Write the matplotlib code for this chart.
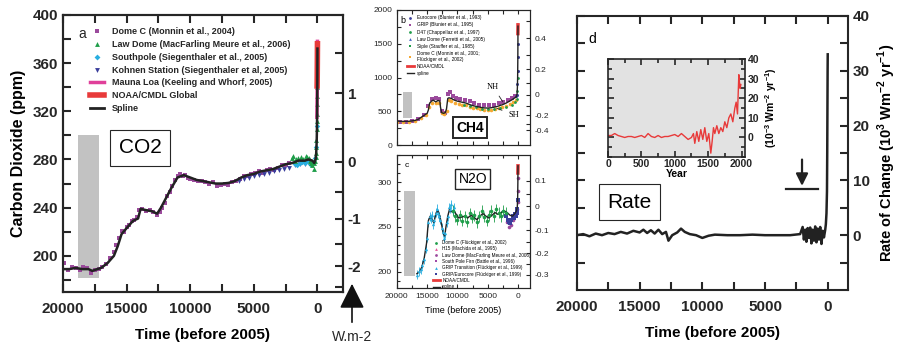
import numpy as np
import matplotlib.pyplot as plt
from matplotlib.ticker import MultipleLocator, FixedLocator
from matplotlib.lines import Line2D
from matplotlib.patches import FancyArrowPatch

plt.rcParams['font.family'] = ['Liberation Sans', 'DejaVu Sans']
plt.rcParams['mathtext.fontset'] = 'custom'
plt.rcParams['mathtext.rm'] = 'Liberation Sans'
plt.rcParams['mathtext.bf'] = 'Liberation Sans:bold'
plt.rcParams['xtick.direction'] = 'in'
plt.rcParams['ytick.direction'] = 'in'

# ---------------- datos CO2 (panel a) ----------------
co2_t = [20000, 19500, 19000, 18500, 18000, 17700, 17300, 17000, 16500, 16000, 15700, 15400,
         15000, 14500, 14100, 13900, 13500, 13000, 12600, 12300, 12000, 11500, 11000, 10500,
         10000, 9500, 9000, 8500, 8000, 7500, 7000, 6500, 6000, 5500, 5000, 4500, 4000, 3500,
         3000, 2500, 2000, 1500, 1000, 700, 400, 250, 150, 100, 60, 40, 20, 10, 0]
co2_s = [189, 189, 190, 189, 189, 187.5, 189, 190, 194, 200, 208, 218, 223, 229, 231, 239, 238,
         237, 235, 240, 246, 256, 265, 267, 265, 263, 262, 261, 260, 260, 260.5, 262, 265, 267,
         268, 270, 271, 272, 274, 276, 277, 279, 279, 280, 279, 277, 280, 285, 295, 305, 325,
         345, 372]
domec_t = [19900, 19600, 19300, 19000, 18700, 18400, 18100, 17800, 17500, 17200, 16900, 16600,
           16300, 16000, 15800, 15600, 15400, 15200, 15000, 14800, 14600, 14400, 14200, 14000,
           13800, 13500, 13200, 12900, 12600, 12400, 12200, 12000, 11800, 11600, 11400, 11200,
           11000, 10800, 10600, 10400, 10200, 10000, 9700, 9400, 9100, 8800, 8500, 8200, 7900,
           7600, 7300, 7000, 6700, 6400, 6100, 5800, 5500, 5200, 4900, 4600, 4300, 4000, 3700,
           3400, 3100, 2800, 2500, 2200]
domec_v = [194, 188, 191, 190, 188, 191, 190, 186, 188, 189, 191, 193, 198, 203, 209, 215, 221,
           220, 224, 226, 229, 230, 232, 238, 239, 237, 238, 236, 234, 236, 240, 244, 250, 253,
           258, 263, 266, 268, 266, 267, 265, 264, 263, 262, 262, 261, 260, 261, 258, 259, 260,
           259, 261, 262, 264, 266, 266, 268, 269, 270, 269, 271, 272, 271, 273, 275, 275, 277]
lawdome_t = [2000, 1900, 1800, 1700, 1500, 1300, 1100, 900, 800, 700, 600, 500, 400, 300, 250,
             200, 150, 120, 100, 80, 60, 50, 40, 30, 25, 20, 15, 10]
lawdome_v = [281, 283, 279, 280, 281, 282, 280, 283, 282, 281, 279, 277, 275, 272, 277, 279, 282,
             285, 290, 296, 305, 312, 318, 326, 333, 340, 350, 360]
southpole_t = [1800, 1600, 1400, 1200, 1000, 800, 600, 400, 200, 100, 50]
southpole_v = [276, 275, 277, 278, 277, 279, 276, 278, 281, 290, 308]
kohnen_t = [6200, 5800, 5400, 5000, 4600, 4200, 3800, 3400, 3000, 2600, 2200, 1800, 1400, 1000, 600]
kohnen_v = [262, 264, 265, 266, 267, 268, 269, 270, 271, 272, 273, 275, 276, 276, 277]
maunaloa_t = [47, 40, 30, 20, 10, 0]
maunaloa_v = [315, 320, 328, 339, 354, 378]
noaa_co2_t = [26, 20, 10, 0]
noaa_co2_v = [341, 346, 360, 376]
co2_bar = [18800, 17200, 182, 300]

# ---------------- datos CH4 (panel b) ----------------
ch4_t = [20000, 19000, 18000, 17500, 17000, 16500, 16000, 15500, 15000, 14800, 14600, 14300,
         14000, 13600, 13200, 12900, 12800, 12600, 12300, 12000, 11800, 11600, 11400, 11000,
         10500, 10000, 9500, 9000, 8500, 8000, 7500, 7000, 6500, 6000, 5500, 5000, 4500, 4000,
         3500, 3000, 2500, 2000, 1500, 1000, 700, 400, 250, 150, 100, 60, 30, 10, 0]
ch4_s = [355, 350, 352, 358, 365, 380, 410, 440, 470, 520, 620, 650, 665, 640, 660, 650, 560,
         480, 470, 480, 540, 690, 700, 690, 665, 650, 640, 630, 620, 600, 585, 575, 565, 555,
         550, 548, 552, 560, 570, 585, 600, 620, 645, 670, 690, 705, 720, 760, 850, 1000, 1250,
         1550, 1760]
grip_t = [19500, 18500, 17500, 16500, 15500, 14800, 14200, 13500, 13000, 12500, 12000, 11500,
          11200, 10800, 10200, 9500, 8800, 8000, 7200, 6400, 5600, 4800, 4000, 3200, 2400, 1600,
          1000, 500]
grip_v = [340, 345, 350, 380, 450, 580, 680, 690, 680, 500, 480, 760, 790, 730, 700, 680, 670,
          650, 620, 600, 590, 590, 600, 620, 640, 670, 700, 720]
domec_ch4_t = [20000, 19000, 18000, 17000, 16000, 15200, 14700, 14200, 13600, 13000, 12600, 12200,
               11800, 11400, 11000, 10400, 9800, 9200, 8600, 8000, 7400, 6800, 6200, 5600, 5000,
               4400, 3800, 3200, 2600, 2000, 1400, 800, 400]
domec_ch4_v = [340, 335, 340, 355, 395, 450, 560, 620, 620, 630, 470, 455, 500, 660, 650, 625,
               610, 600, 590, 570, 555, 545, 535, 525, 520, 525, 535, 545, 560, 585, 610, 640, 665]
siple_t = [9000, 8000, 7000, 6000, 5000, 4000, 3000, 2000, 1000, 500, 200, 100, 50]
siple_v = [600, 575, 560, 540, 530, 535, 545, 560, 600, 640, 680, 800, 1000]
eurocore_t = [300, 200, 100, 60, 40, 20]
eurocore_v = [720, 740, 900, 1100, 1300, 1500]
noaa_ch4_t = [20, 10, 0]
noaa_ch4_v = [1650, 1720, 1780]
ch4_bar = [19000, 17500, 400, 790]

# ---------------- datos N2O (panel c) ----------------
n2o_t = [16700, 16300, 15900, 15500, 15100, 14800, 14500, 14200, 13900, 13500, 13200, 12900,
         12600, 12300, 12100, 11900, 11600, 11300, 11000, 10600, 10200, 9800, 9300, 8800, 8300,
         7800, 7300, 6800, 6300, 5800, 5300, 4800, 4300, 3800, 3300, 2800, 2300, 1800, 1300, 900,
         500, 250, 120, 60, 20, 0]
n2o_s = [198, 200, 205, 215, 232, 257, 262, 258, 255, 266, 268, 262, 252, 242, 240, 250, 262,
         270, 267, 268, 264, 260, 261, 262, 260, 263, 261, 258, 262, 265, 262, 260, 263, 266,
         264, 266, 268, 266, 263, 262, 265, 268, 272, 280, 300, 318]
griptr_t = [16700, 16400, 16100, 15800, 15500, 15200, 15000, 14800, 14600, 14400, 14200, 14000,
            13800, 13600, 13400, 13200, 13000, 12800, 12600, 12400, 12200, 12000, 11800, 11600,
            11400, 11200, 11000, 10800, 10600]
griptr_v = [197, 201, 203, 208, 214, 226, 238, 255, 262, 259, 263, 253, 258, 266, 270, 265, 262,
            258, 249, 244, 238, 243, 255, 262, 272, 270, 275, 268, 272]
domec_n2o_t = [10800, 10400, 10000, 9600, 9200, 8800, 8400, 8000, 7600, 7200, 6800, 6400, 6000,
               5600, 5200, 4800, 4400, 4000, 3600, 3200, 2800, 2400, 2000]
domec_n2o_v = [268, 262, 258, 263, 257, 262, 256, 265, 260, 263, 255, 262, 268, 261, 257, 263,
               268, 262, 270, 266, 262, 268, 266]
gripeu_t = [1900, 1700, 1500, 1300, 1100, 900, 700, 500, 300, 200, 100, 50]
gripeu_v = [262, 258, 256, 254, 258, 262, 260, 264, 262, 266, 270, 280]
lawn2o_t = [1800, 1500, 1200, 900, 600, 300, 150, 80, 40, 20]
lawn2o_v = [256, 250, 252, 258, 262, 265, 270, 278, 290, 305]
noaa_n2o_t = [20, 10, 0]
noaa_n2o_v = [310, 314, 318]
n2o_bar = [18850, 17000, 196, 290]

# ---------------- datos tasa (panel d) ----------------
rate_t = [20000, 19500, 19000, 18500, 18000, 17500, 17000, 16500, 16000, 15500, 15000, 14700,
          14400, 14100, 13800, 13500, 13200, 12900, 12700, 12400, 12000, 11700, 11400, 11000,
          10500, 10000, 9500, 9000, 8000, 7000, 6000, 5000, 4000, 3000, 2200, 2000, 1900, 1800,
          1700, 1600, 1500, 1400, 1300, 1200, 1100, 1000, 900, 800, 700, 600, 500, 400, 300, 200,
          150, 100, 60, 40, 20, 10, 0]
rate_v = [0, 0.2, -0.2, 0.3, 0, 0.4, 0.2, 0.6, 0.3, 0.8, 0.5, 1.0, 0.4, 0.9, 0.3, 1.0, 0.2, 0.6,
          -1.0, 0, 0.5, 1.2, 0.6, 0.2, 0, -0.5, -0.1, 0.1, 0, 0, 0.1, 0, 0, 0, 0.2, 1.5, -0.8,
          1.0, -1.2, 1.3, -0.5, 1.4, -1.5, 1.0, -1.0, 1.6, -1.3, 1.2, -0.8, 1.5, -1.6, 0.8, -0.4,
          1.0, 2, 4, 8, 15, 25, 30, 33]
inset_year = [0, 50, 100, 150, 200, 250, 300, 350, 400, 450, 500, 550, 600, 650, 700, 750, 800,
              850, 900, 950, 1000, 1050, 1100, 1150, 1200, 1250, 1280, 1300, 1330, 1360, 1390,
              1420, 1450, 1480, 1510, 1540, 1560, 1580, 1600, 1630, 1660, 1690, 1720, 1750, 1780,
              1810, 1840, 1870, 1900, 1920, 1940, 1950, 1960, 1970, 1980, 1990]
inset_rate = [1, 1, 2, 1, 0.5, 0, 0.5, 0.5, 0, 0.5, 1, 0, 2, 0.5, 0, 1, 0, 0.5, 0.5, 1, 1.5, 0.5,
              2, 0.5, -1, 0, 2, -3, 3, -2, 4, -1, 5, -2, 2, -8, -2, 5, 2, 6, 2, 5, 3, 8, 5, 10,
              12, 8, 15, 18, 12, 22, 32, 28, 25, 27]

INK = '#262626'
PURPLE = '#9b4a9c'
GREEN = '#1f9e4a'
CYAN = '#29aee0'
BLUE = '#3b3f9c'
MAGENTA = '#e0409a'
RED = '#e83a3a'
ORANGE = '#f5a832'
GRAY = '#c2c2c2'


def co2_inv(f):
    return 278.0 * np.exp(np.asarray(f) / 5.35)


def ch4_inv(f):
    return (np.asarray(f) / 0.032 + np.sqrt(742.0)) ** 2


def n2o_inv(f):
    return (np.asarray(f) / 0.12 + np.sqrt(273.0)) ** 2


def estilo(ax, lw, big, small, fs):
    for s in ax.spines.values():
        s.set_linewidth(lw)
        s.set_color(INK)
    ax.tick_params(which='major', length=big, width=lw, colors=INK, labelsize=fs,
                   top=True, bottom=True)
    ax.tick_params(which='minor', length=small, width=lw, colors=INK, top=True, bottom=True)


fig = plt.figure(figsize=(9, 3.43), dpi=100)

# ================= panel a =================
ax_a = fig.add_axes([0.070, 0.1487, 0.311, 0.808])
ax_a.fill_between(co2_bar[:2], co2_bar[2], co2_bar[3], color=GRAY, lw=0)
ax_a.plot(domec_t, domec_v, ls='none', marker='s', ms=3.4, color=PURPLE, mew=0)
ax_a.plot(kohnen_t, kohnen_v, ls='none', marker='v', ms=3.5, color=BLUE, mew=0)
ax_a.plot(southpole_t, southpole_v, ls='none', marker='D', ms=2.8, color=CYAN, mew=0)
ax_a.plot(lawdome_t, lawdome_v, ls='none', marker='^', ms=3.5, color=GREEN, mew=0)
ax_a.plot(maunaloa_t, maunaloa_v, color=MAGENTA, lw=2.5)
ax_a.plot(noaa_co2_t, noaa_co2_v, color=RED, lw=4)
ax_a.plot(co2_t, co2_s, color='#222222', lw=1.8)
ax_a.set_xlim(20000, -2000)
ax_a.set_ylim(170, 400)
ax_a.xaxis.set_major_locator(MultipleLocator(5000))
ax_a.xaxis.set_minor_locator(MultipleLocator(2500))
ax_a.yaxis.set_major_locator(MultipleLocator(40))
ax_a.yaxis.set_minor_locator(MultipleLocator(20))
estilo(ax_a, 1.5, 6, 6, 11)
ax_a.tick_params(axis='x', pad=7)
ax_a.tick_params(axis='y', right=False)
ax_a.set_ylabel('Carbon Dioxide (ppm)', fontsize=11.5, fontweight='bold', labelpad=5)
ax_a.set_xlabel('Time (before 2005)', fontsize=11, fontweight='bold', labelpad=9)

tw_a = ax_a.twinx()
tw_a.set_ylim(170, 400)
tw_a.yaxis.set_major_locator(FixedLocator(co2_inv([-2, -1, 0, 1])))
tw_a.set_yticklabels(['-2', '-1', '0', '1'])
tw_a.yaxis.set_minor_locator(FixedLocator(co2_inv([-2.5, -1.5, -0.5, 0.5, 1.5])))
estilo(tw_a, 1.5, 6, 6, 11)
tw_a.tick_params(axis='x', top=False, bottom=False)

ax_a.text(0.068, 0.93, 'a', transform=ax_a.transAxes, fontsize=10, ha='center', va='center',
          color=INK)
hand_a = [Line2D([], [], ls='none', marker='s', ms=3, color=PURPLE, mew=0),
          Line2D([], [], ls='none', marker='^', ms=3.5, color=GREEN, mew=0),
          Line2D([], [], ls='none', marker='D', ms=3, color=CYAN, mew=0),
          Line2D([], [], ls='none', marker='v', ms=3.5, color=BLUE, mew=0),
          Line2D([], [], color=MAGENTA, lw=2.5),
          Line2D([], [], color=RED, lw=4),
          Line2D([], [], color='#222222', lw=2)]
lab_a = ['Dome C (Monnin et al., 2004)', 'Law Dome (MacFarling Meure et al., 2006)',
         'Southpole (Siegenthaler et al., 2005)', 'Kohnen Station (Siegenthaler et al, 2005)',
         'Mauna Loa (Keeling and Whorf, 2005)', 'NOAA/CMDL Global', 'Spline']
leg = ax_a.legend(hand_a, lab_a, loc='upper left', bbox_to_anchor=(0.096, 0.955), frameon=False,
                  prop={'size': 6.5, 'weight': 'bold'}, handlelength=1.6, handletextpad=0.8,
                  labelspacing=0.42, borderaxespad=0, borderpad=0)
for t in leg.get_texts():
    t.set_color(INK)
ax_a.text(0.275, 0.52, 'CO2', transform=ax_a.transAxes, fontsize=15, ha='center', va='center',
          bbox=dict(boxstyle='square,pad=0.4', fc='white', ec=INK, lw=0.8))

# ================= panel b =================
ax_b = fig.add_axes([0.441, 0.577, 0.148, 0.394])
ax_b.fill_between(ch4_bar[:2], ch4_bar[2], ch4_bar[3], color=GRAY, lw=0)
ax_b.plot(grip_t, grip_v, ls='none', marker='s', ms=2.4, color=PURPLE, mew=0)
ax_b.plot(domec_ch4_t, domec_ch4_v, ls='none', marker='o', ms=2.6, color=ORANGE, mew=0)
ax_b.plot(siple_t, siple_v, ls='none', marker='o', ms=2, color=GREEN, mew=0)
ax_b.plot(eurocore_t, eurocore_v, ls='none', marker='o', ms=2.2, color=BLUE, mew=0)
ax_b.plot(noaa_ch4_t, noaa_ch4_v, color=RED, lw=2.5)
ax_b.plot(ch4_t, ch4_s, color='#222222', lw=1.0)
ax_b.set_xlim(20000, -2000)
ax_b.set_ylim(0, 2000)
ax_b.xaxis.set_major_locator(MultipleLocator(5000))
ax_b.xaxis.set_minor_locator(MultipleLocator(2500))
ax_b.yaxis.set_major_locator(MultipleLocator(500))
ax_b.yaxis.set_minor_locator(MultipleLocator(250))
estilo(ax_b, 0.8, 3, 3, 6)
ax_b.tick_params(axis='x', labelbottom=False)
ax_b.tick_params(axis='y', right=False)
tw_b = ax_b.twinx()
tw_b.set_ylim(0, 2000)
tw_b.yaxis.set_major_locator(FixedLocator(ch4_inv([-0.4, -0.2, 0, 0.2, 0.4])))
tw_b.set_yticklabels(['-0.4', '-0.2', '0', '0.2', '0.4'])
tw_b.yaxis.set_minor_locator(FixedLocator(ch4_inv([-0.3, -0.1, 0.1, 0.3, 0.5])))
estilo(tw_b, 0.8, 3, 3, 6)
tw_b.tick_params(axis='x', top=False, bottom=False)
ax_b.text(0.045, 0.925, 'b', transform=ax_b.transAxes, fontsize=6.5, ha='center', va='center')
hand_b = [Line2D([], [], ls='none', marker='o', ms=2, color=BLUE, mew=0),
          Line2D([], [], ls='none', marker='s', ms=2, color=PURPLE, mew=0),
          Line2D([], [], ls='none', marker='o', ms=2, color=GREEN, mew=0),
          Line2D([], [], ls='none', marker='^', ms=2, color='#4060c0', mew=0),
          Line2D([], [], ls='none', marker='s', ms=2, color=GREEN, mew=0),
          Line2D([], [], ls='none', marker='s', ms=2, color=ORANGE, mew=0),
          Line2D([], [], color=RED, lw=2),
          Line2D([], [], color='#222222', lw=1)]
lab_b = ['Eurocore (Blunier et al., 1993)', 'GRIP (Blunier et al., 1995)',
         'D47 (Chappellaz et al., 1997)', 'Law Dome (Ferretti et al., 2005)',
         'Siple (Stauffer et al., 1985)', 'Dome C (Monnin et al., 2001;\nFlückiger et al., 2002)',
         'NOAA/CMDL', 'spline']
ax_b.legend(hand_b, lab_b, loc='upper left', bbox_to_anchor=(0.075, 0.96), frameon=False,
            prop={'size': 3.4}, handlelength=1.5, handletextpad=0.6, labelspacing=0.45,
            borderaxespad=0, borderpad=0)
ax_b.annotate('NH', xy=(2500, 640), xytext=(4100, 860), fontsize=6, family='Liberation Serif',
              ha='center', va='center', arrowprops=dict(arrowstyle='-', color=INK, lw=0.6,
                                                        shrinkA=2, shrinkB=0))
ax_b.annotate('SH', xy=(3500, 545), xytext=(650, 445), fontsize=6, family='Liberation Serif',
              ha='center', va='center', arrowprops=dict(arrowstyle='-', color=INK, lw=0.6,
                                                        shrinkA=3, shrinkB=0))
ax_b.text(0.55, 0.13, 'CH4', transform=ax_b.transAxes, fontsize=10, fontweight='bold',
          ha='center', va='center',
          bbox=dict(boxstyle='square,pad=0.22', fc='white', ec=INK, lw=1.4))

# ================= panel c =================
ax_c = fig.add_axes([0.441, 0.160, 0.148, 0.388])
ax_c.fill_between(n2o_bar[:2], n2o_bar[2], n2o_bar[3], color=GRAY, lw=0)
ax_c.errorbar(griptr_t, griptr_v, yerr=5, ls='none', marker='^', ms=2.4, color=CYAN, mew=0,
              elinewidth=0.6, capsize=1.2)
ax_c.errorbar(domec_n2o_t, domec_n2o_v, yerr=6, ls='none', marker='o', ms=2.6, color=GREEN,
              mew=0, elinewidth=0.6, capsize=1.2)
ax_c.plot(lawn2o_t, lawn2o_v, ls='none', marker='o', ms=2.6, color=PURPLE, mew=0)
ax_c.plot(gripeu_t, gripeu_v, ls='none', marker='s', ms=2.6, color=BLUE, mew=0)
ax_c.plot(noaa_n2o_t, noaa_n2o_v, color=RED, lw=2.5)
ax_c.plot(n2o_t, n2o_s, color='#222222', lw=1.0)
ax_c.set_xlim(20000, -2000)
ax_c.set_ylim(182, 330)
ax_c.xaxis.set_major_locator(MultipleLocator(5000))
ax_c.xaxis.set_minor_locator(MultipleLocator(2500))
ax_c.yaxis.set_major_locator(MultipleLocator(50))
ax_c.yaxis.set_minor_locator(MultipleLocator(10))
estilo(ax_c, 0.8, 3, 2, 6)
ax_c.tick_params(axis='y', right=False)
ax_c.set_xlabel('Time (before 2005)', fontsize=6.5, labelpad=4)
tw_c = ax_c.twinx()
tw_c.set_ylim(182, 330)
tw_c.yaxis.set_major_locator(FixedLocator(n2o_inv([-0.3, -0.2, -0.1, 0, 0.1])))
tw_c.set_yticklabels(['-0.3', '-0.2', '-0.1', '0', '0.1'])
tw_c.yaxis.set_minor_locator(FixedLocator(n2o_inv([-0.25, -0.15, -0.05, 0.05])))
estilo(tw_c, 0.8, 3, 3, 6)
tw_c.tick_params(axis='x', top=False, bottom=False)
ax_c.text(0.075, 0.92, 'c', transform=ax_c.transAxes, fontsize=6, ha='center', va='center')
hand_c = [Line2D([], [], ls='none', marker='o', ms=2, color=GREEN, mew=0),
          Line2D([], [], ls='none', marker='^', ms=2, color='#e8509a', mew=0),
          Line2D([], [], ls='none', marker='o', ms=2, color=PURPLE, mew=0),
          Line2D([], [], ls='none', marker='s', ms=2, color='#a04aa8', mew=0),
          Line2D([], [], ls='none', marker='^', ms=2, color=CYAN, mew=0),
          Line2D([], [], ls='none', marker='s', ms=2, color=BLUE, mew=0),
          Line2D([], [], color=RED, lw=2),
          Line2D([], [], color='#222222', lw=1)]
lab_c = ['Dome C (Flückiger et al., 2002)', 'H15 (Machida et al., 1995)',
         'Law Dome (MacFarling Meure et al., 2006)', 'South Pole Firn (Battle et al., 1996)',
         'GRIP Transition (Flückiger et al., 1999)', 'GRIP/Eurocore (Flückiger et al., 1999)',
         'NOAA/CMDL', 'spline']
ax_c.legend(hand_c, lab_c, loc='upper left', bbox_to_anchor=(0.27, 0.36), frameon=False,
            prop={'size': 3.3}, handlelength=1.5, handletextpad=0.6, labelspacing=0.28,
            borderaxespad=0, borderpad=0)
ax_c.text(0.57, 0.82, 'N2O', transform=ax_c.transAxes, fontsize=10, ha='center', va='center',
          bbox=dict(boxstyle='square,pad=0.22', fc='white', ec=INK, lw=1.0))

# flecha W.m-2
fig.text(352 / 900, 2 / 343, 'W.m-2', fontsize=10, ha='center', va='baseline', color=INK)
fig.add_artist(FancyArrowPatch(
    (352 / 900, 18 / 343), (352 / 900, 62 / 343), transform=fig.transFigure,
    arrowstyle='-|>,head_length=0.9,head_width=0.45', mutation_scale=17, color='#111111',
    lw=1.2))

# ================= panel d =================
ax_d = fig.add_axes([0.641, 0.1545, 0.301, 0.799])
ax_d.plot(rate_t, rate_v, color='#222222', lw=1.8)
ax_d.set_xlim(20000, -1600)
ax_d.set_ylim(-10, 40)
ax_d.xaxis.set_major_locator(MultipleLocator(5000))
ax_d.xaxis.set_minor_locator(MultipleLocator(2500))
ax_d.yaxis.set_major_locator(FixedLocator([0, 10, 20, 30, 40]))
ax_d.yaxis.set_minor_locator(FixedLocator([-5, 5, 15, 25, 35]))
estilo(ax_d, 1.5, 6, 6, 11)
ax_d.tick_params(axis='y', which='both', left=True, right=True, labelleft=False,
                 labelright=True)
ax_d.tick_params(axis='x', pad=7)
ax_d.yaxis.set_label_position('right')
ax_d.set_ylabel(r'Rate of Change (10$^{\mathbf{3}}$ Wm$^{\mathbf{-2}}$ yr$^{\mathbf{-1}}$)',
                fontsize=10.5, fontweight='bold', rotation=90, labelpad=4)
ax_d.set_xlabel('Time (before 2005)', fontsize=11, fontweight='bold', labelpad=9)
ax_d.text(0.058, 0.916, 'd', transform=ax_d.transAxes, fontsize=10, ha='center', va='center')
ax_d.annotate('', xy=(2050, 9.0), xytext=(2050, 13.8),
              arrowprops=dict(arrowstyle='-|>,head_length=0.6,head_width=0.3', color='#222222',
                              lw=1.6, mutation_scale=12, shrinkA=0, shrinkB=0))
ax_d.plot([3300, 800], [8.5, 8.5], color='#222222', lw=1.6)
ax_d.text(0.195, 0.32, 'Rate', transform=ax_d.transAxes, fontsize=15, ha='center', va='center',
          bbox=dict(boxstyle='square,pad=0.4', fc='white', ec=INK, lw=0.8))

ax_in = fig.add_axes([0.6756, 0.542, 0.152, 0.286])
ax_in.set_facecolor('#e2e2e2')
ax_in.plot(inset_year, inset_rate, color=RED, lw=1.0)
ax_in.set_xlim(0, 2050)
ax_in.set_ylim(-10, 40)
ax_in.xaxis.set_major_locator(MultipleLocator(500))
ax_in.xaxis.set_minor_locator(MultipleLocator(250))
ax_in.yaxis.set_major_locator(FixedLocator([0, 10, 20, 30, 40]))
ax_in.yaxis.set_minor_locator(MultipleLocator(5))
estilo(ax_in, 1.2, 4, 3, 7.5)
ax_in.tick_params(axis='y', which='both', left=True, right=True, labelleft=False,
                  labelright=True, pad=2)
ax_in.tick_params(axis='x', pad=1.5)
ax_in.yaxis.set_label_position('right')
ax_in.set_ylabel(r'(10$^{\mathbf{-3}}$ Wm$^{\mathbf{-2}}$ yr$^{\mathbf{-1}}$)', fontsize=7.5,
                 fontweight='bold', rotation=90, labelpad=3)
ax_in.set_xlabel('Year', fontsize=7.5, fontweight='bold', labelpad=0)

fig.canvas.draw()
for ax in (ax_a, tw_a, ax_d, ax_in):
    for t in ax.get_xticklabels() + ax.get_yticklabels():
        t.set_fontweight('bold')

fig.savefig('out.png', dpi=100)
